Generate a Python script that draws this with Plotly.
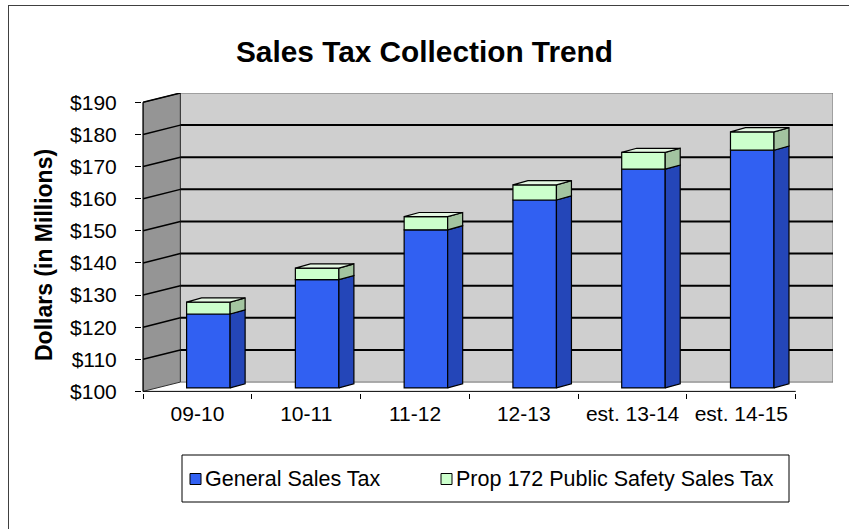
import plotly.graph_objects as go

# ---- data -------------------------------------------------------------
periods = ["09-10", "10-11", "11-12", "12-13", "est. 13-14", "est. 14-15"]
general_tax = [123.0, 133.7, 149.2, 158.5, 168.1, 174.0]   # $ millions
prop172_tax = [3.7, 3.6, 4.1, 4.7, 5.2, 5.7]               # $ millions
y_ticks = [100, 110, 120, 130, 140, 150, 160, 170, 180, 190]
series_names = ["General Sales Tax", "Prop 172 Public Safety Sales Tax"]

# ---- pseudo-3D geometry (axis units) ---------------------------------
Y0, Y1 = y_ticks[0], y_ticks[-1]
N = len(periods)
WALL_DX, WALL_DY = 0.3425, 2.9     # depth of the chart box
BAR_SX, BAR_SY = 0.10, 1.09        # bars sit a little behind the front plane
BAR_W = 0.40
BAR_DX, BAR_DY = 0.138, 1.3        # depth of each column

BLUE_FRONT = "#3160F2"
BLUE_SIDE = "#2446B8"
GREEN_FRONT = "#CCFFCC"
GREEN_SIDE = "#A3C4A0"
GREEN_TOP = "#E4F7E2"
FONT = "Liberation Sans, Arial, sans-serif"

W, H = 849, 529
ML, MR, MT, MB = 142, 16, 93, 136
PW, PH = W - ML - MR, H - MT - MB


def px(xp):
    """page x-pixel -> paper coordinate"""
    return (xp - ML) / PW


def py(yp):
    """page y-pixel -> paper coordinate"""
    return (H - MB - yp) / PH


xc = [i + 0.5 + BAR_SX for i in range(N)]
xl = [c - BAR_W / 2 for c in xc]
xr = [c + BAR_W / 2 for c in xc]
totals = [g + p for g, p in zip(general_tax, prop172_tax)]

fig = go.Figure()

# front faces of the stacked columns
fig.add_trace(go.Bar(
    x=xc, y=[g - Y0 for g in general_tax], base=Y0 + BAR_SY, width=BAR_W,
    name=series_names[0], showlegend=False,
    marker=dict(color=BLUE_FRONT, line=dict(color="black", width=1.2)),
    hoverinfo="skip"))
fig.add_trace(go.Bar(
    x=xc, y=prop172_tax, base=[g + BAR_SY for g in general_tax], width=BAR_W,
    name=series_names[1], showlegend=False,
    marker=dict(color=GREEN_FRONT, line=dict(color="black", width=1.2)),
    hoverinfo="skip"))


def faces(points_list):
    xs, ys = [], []
    for pts in points_list:
        for qx, qy in pts + [pts[0]]:
            xs.append(qx)
            ys.append(qy)
        xs.append(None)
        ys.append(None)
    return xs, ys


blue_side, green_side, green_top = [], [], []
for i in range(N):
    g = general_tax[i] + BAR_SY
    t = totals[i] + BAR_SY
    b = Y0 + BAR_SY
    blue_side.append([(xr[i], b), (xr[i] + BAR_DX, b + BAR_DY),
                      (xr[i] + BAR_DX, g + BAR_DY), (xr[i], g)])
    green_side.append([(xr[i], g), (xr[i] + BAR_DX, g + BAR_DY),
                       (xr[i] + BAR_DX, t + BAR_DY), (xr[i], t)])
    green_top.append([(xl[i], t), (xl[i] + BAR_DX, t + BAR_DY),
                      (xr[i] + BAR_DX, t + BAR_DY), (xr[i], t)])

for polys, col in [(blue_side, BLUE_SIDE), (green_side, GREEN_SIDE),
                   (green_top, GREEN_TOP)]:
    fx, fy = faces(polys)
    fig.add_trace(go.Scatter(
        x=fx, y=fy, mode="lines", fill="toself", fillcolor=col,
        line=dict(color="black", width=1.2), showlegend=False,
        hoverinfo="skip"))

# ---- walls and gridlines ---------------------------------------------
shapes = []
# back wall
shapes.append(dict(
    type="rect", layer="below", x0=WALL_DX, x1=N + WALL_DX,
    y0=Y0 + WALL_DY, y1=Y1 + WALL_DY,
    fillcolor="#CFCFCF", line=dict(color="#707070", width=1)))
# side wall
shapes.append(dict(
    type="path", layer="below",
    path=f"M0,{Y0} L{WALL_DX},{Y0 + WALL_DY} L{WALL_DX},{Y1 + WALL_DY} L0,{Y1} Z",
    fillcolor="#959595", line=dict(color="#303030", width=1)))
for v in y_ticks[1:]:
    shapes.append(dict(type="line", layer="below", x0=0, y0=v,
                       x1=WALL_DX, y1=v + WALL_DY,
                       line=dict(color="black", width=1.5)))
    if v < Y1:
        shapes.append(dict(type="line", layer="below", x0=WALL_DX,
                           y0=v + WALL_DY, x1=N + WALL_DX, y1=v + WALL_DY,
                           line=dict(color="black", width=2)))
# front edges (axes)
shapes.append(dict(type="line", x0=0, y0=Y0, x1=N, y1=Y0,
                   line=dict(color="black", width=1)))
shapes.append(dict(type="line", x0=0, y0=Y0, x1=0, y1=Y1,
                   line=dict(color="black", width=1)))

# ---- legend box ------------------------------------------------------
LEG_X0, LEG_X1, LEG_Y0, LEG_Y1 = 182, 789, 455, 502
LEG_YC = (LEG_Y0 + LEG_Y1) / 2
shapes.append(dict(type="rect", xref="paper", yref="paper",
                   x0=px(LEG_X0), x1=px(LEG_X1), y0=py(LEG_Y1), y1=py(LEG_Y0),
                   fillcolor="white", line=dict(color="black", width=1)))
legend_items = [(190, BLUE_FRONT, series_names[0]),
                (441, GREEN_FRONT, series_names[1])]
annotations = []
for sx, col, label in legend_items:
    shapes.append(dict(type="rect", xref="paper", yref="paper",
                       x0=px(sx), x1=px(sx + 11), y0=py(LEG_YC + 6),
                       y1=py(LEG_YC - 5), fillcolor=col,
                       line=dict(color="black", width=1)))
    annotations.append(dict(text=label, xref="paper", yref="paper",
                            x=px(sx + 13), y=py(LEG_YC + 0.5),
                            xanchor="left", yanchor="middle",
                            showarrow=False,
                            font=dict(family=FONT, size=21.5, color="black")))

annotations.append(dict(text="<b>Dollars (in Millions)</b>", textangle=-90,
                        xref="paper", yref="paper", x=px(44), y=py(255),
                        xanchor="center", yanchor="middle", showarrow=False,
                        font=dict(family=FONT, size=23, color="black")))

# chart border: a framed, empty box whose right and bottom sides fall
# past the edge of the canvas, leaving the left and top edges visible
annotations.append(dict(text=" ", xref="paper", yref="paper",
                        x=px(7.5), y=py(4.5), xanchor="left", yanchor="top",
                        width=880, height=560, borderpad=0,
                        bordercolor="#404040", borderwidth=1,
                        showarrow=False, font=dict(size=1)))

fig.update_layout(
    width=W, height=H, autosize=False,
    margin=dict(l=ML, r=MR, t=MT, b=MB, pad=0),
    paper_bgcolor="white", plot_bgcolor="white",
    barmode="overlay",
    showlegend=False,
    font=dict(family=FONT, color="black", size=21),
    title=dict(text="<b>Sales Tax Collection Trend</b>",
               font=dict(family=FONT, size=29.8, color="black"),
               x=0.5, xanchor="center", y=1 - 52 / H, yanchor="middle"),
    shapes=shapes,
    annotations=annotations,
    xaxis=dict(range=[-0.01, N + WALL_DX], showgrid=False, zeroline=False,
               showline=False, tickmode="array",
               tickvals=[i + 0.5 for i in range(N)], ticktext=periods,
               ticks="", ticklabelstandoff=6,
               tickfont=dict(family=FONT, size=21, color="black"),
               minor=dict(tickmode="array", tickvals=list(range(N + 1)),
                          ticks="outside", ticklen=5, tickcolor="black",
                          showgrid=False),
               fixedrange=True),
    yaxis=dict(range=[Y0 - 0.5, Y1 + WALL_DY], showgrid=False, zeroline=False,
               showline=False, tickmode="array", tickvals=y_ticks,
               ticktext=[f"${v}" for v in y_ticks],
               ticks="outside", ticklen=6, tickcolor="black",
               ticklabelstandoff=14,
               tickfont=dict(family=FONT, size=21, color="black"),
               fixedrange=True),
)

fig.write_html("out.html")
